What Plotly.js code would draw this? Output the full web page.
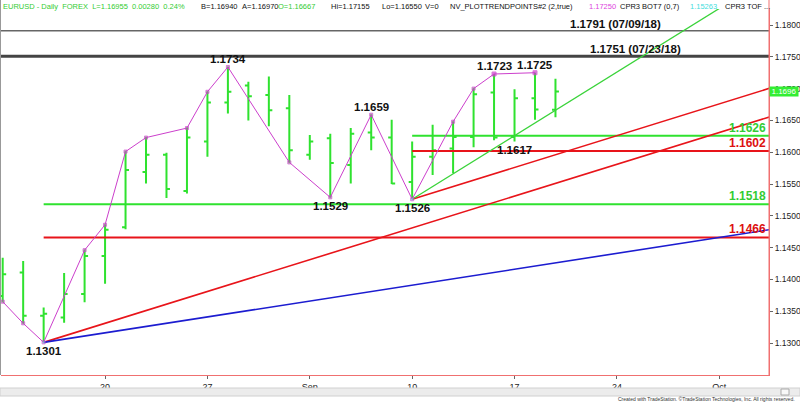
<!DOCTYPE html>
<html><head><meta charset="utf-8">
<script src="https://cdn.plot.ly/plotly-3.0.1.min.js"></script>
<style>html,body{margin:0;padding:0;background:#fff;}#chart{width:800px;height:402px;}</style>
</head><body><div id="chart"></div>
<script>
// ---- data ----
const dates = ['2018-08-13','2018-08-14','2018-08-15','2018-08-16','2018-08-17',
  '2018-08-20','2018-08-21','2018-08-22','2018-08-23','2018-08-24',
  '2018-08-27','2018-08-28','2018-08-29','2018-08-30','2018-08-31',
  '2018-09-03','2018-09-04','2018-09-05','2018-09-06','2018-09-07',
  '2018-09-10','2018-09-11','2018-09-12','2018-09-13','2018-09-14',
  '2018-09-17','2018-09-18','2018-09-19'];
const openP  = [1.1374,1.1411,1.1343,1.1340,1.1377,1.1437,1.1482,1.1569,1.1596,1.1539,
  1.1617,1.1678,1.1705,1.1690,1.1669,1.1596,1.1622,1.1580,1.1631,1.1623,
  1.1553,1.1593,1.1606,1.1624,1.1694,1.1624,1.1685,1.16667];
const highP  = [1.1434,1.1429,1.1356,1.1410,1.1446,1.1486,1.1601,1.1623,1.1599,1.1638,
  1.1695,1.1734,1.1711,1.1719,1.1690,1.1627,1.1629,1.1638,1.1659,1.1651,
  1.1617,1.1643,1.1648,1.1700,1.1723,1.1699,1.1725,1.17155];
const lowP   = [1.1365,1.1331,1.1301,1.1332,1.1364,1.1393,1.1479,1.1551,1.1528,1.1535,
  1.1593,1.1661,1.1650,1.1641,1.1584,1.1588,1.1529,1.1551,1.1603,1.1550,
  1.1526,1.1564,1.1567,1.1608,1.1619,1.1617,1.1651,1.16550];
const closeP = [1.1408,1.1343,1.1346,1.1377,1.1437,1.1478,1.1572,1.1596,1.1542,1.1623,
  1.1678,1.1695,1.1688,1.1666,1.1603,1.1617,1.1583,1.1629,1.1623,1.1551,
  1.1593,1.1603,1.1624,1.1691,1.1623,1.1685,1.1667,1.16955];

// swing (trend points) line
const swingDates  = ['2018-08-13','2018-08-14','2018-08-15','2018-08-17','2018-08-20','2018-08-21',
  '2018-08-22','2018-08-24','2018-08-27','2018-08-28','2018-08-31','2018-09-04','2018-09-06',
  '2018-09-10','2018-09-12','2018-09-13','2018-09-14','2018-09-18'];
const swingPrices = [1.1365,1.1331,1.1301,1.1446,1.1486,1.1601,1.1623,1.1638,1.1695,1.1734,
  1.1584,1.1529,1.1659,1.1526,1.1648,1.1700,1.1723,1.1725];

// labelled pivots
const pivotDates  = ['2018-08-15','2018-08-28','2018-09-04','2018-09-06','2018-09-10','2018-09-14','2018-09-17','2018-09-18'];
const pivotPrices = [1.1301,1.1734,1.1529,1.1659,1.1526,1.1723,1.1617,1.1725];

// old highs
const levelPrices = [1.1791, 1.1751];
const levelDates  = ['07/09/18','07/23/18'];

// horizontal support / resistance
const zonePrices = [1.1626, 1.1602, 1.1518, 1.1466];
const zoneStart  = ['2018-09-10','2018-09-10','2018-08-15','2018-08-15'];
const zoneKind   = ['green','red','green','red'];

// trend lines (start / end points)
const trendKind        = ['red','red','blue','green'];
const trendStartDates  = ['2018-08-15','2018-09-10','2018-08-15','2018-09-10'];
const trendStartPrices = [1.1301,1.1526,1.1301,1.1526];
const trendEndDates    = ['2018-10-04','2018-10-04','2018-10-04','2018-10-04'];
const trendEndPrices   = [1.1661,1.1706,1.1481,1.1886];

// axis ticks
const xTickDates = ['2018-08-20','2018-08-27','2018-09-03','2018-09-10','2018-09-17','2018-09-24','2018-10-01'];
const xTickText  = ['20','27','Sep','10','17','24','Oct'];
const yTicks = [1.1300,1.1350,1.1400,1.1450,1.1500,1.1550,1.1600,1.1650,1.1700,1.1750,1.1800];

// header
const headerParts = [
  ['EURUSD - Daily  FOREX  L=1.16955  0.00280  0.24%','green',2],
  ['B=1.16940','black',200],['A=1.16970','black',241],['O=1.16667','green',277],
  ['Hi=1.17155','black',330],['Lo=1.16550','black',381],['V=0','black',424],
  ['NV_PLOTTRENDPOINTS#2 (2,true)','black',449],['1.17250','magenta',588],
  ['CPR3 BOT7 (0,7)','black',619],['1.15263','cyan',689],['CPR3 TOF ...','black',724]
];

// ---- helpers ----
function tdIndex(s){
  const p=s.split('-').map(Number); const t=Date.UTC(p[0],p[1]-1,p[2]);
  const base=Date.UTC(2018,7,13), step=86400000; let n=0;
  if(t>=base){for(let u=base;u<t;u+=step){const w=new Date(u).getUTCDay(); if(w!==0&&w!==6)n++;}}
  else{for(let u=t;u<base;u+=step){const w=new Date(u).getUTCDay(); if(w!==0&&w!==6)n--;}}
  return n;
}
const C = {green:'#2fe22f', greenText:'#33cc33', red:'#e8141a', blue:'#1c1cd0', magenta:'#cc3fcc'};
const W=800,H=402,L=1,R=31,T=9,B=27, PW=W-L-R, PH=H-T-B;
const px2x = px => (px-L)/PW;
const px2y = py => 1-(py-T)/PH;
const FONT = 'Liberation Sans, Arial';

const xs = dates.map(tdIndex);
const traces = [];

// level lines
levelPrices.forEach((p,i)=>{
  traces.push({type:'scatter',mode:'lines',x:[tdIndex('2018-08-10'),tdIndex('2018-10-04')],y:[p,p],
    line:{color: i===0?'#666':'#444', width: i===0?1.5:3}, hoverinfo:'skip'});
});
// zones
zonePrices.forEach((p,i)=>{
  traces.push({type:'scatter',mode:'lines',x:[tdIndex(zoneStart[i]),tdIndex('2018-10-04')],y:[p,p],
    line:{color: zoneKind[i]==='green'?C.green:C.red, width:2}, hoverinfo:'skip'});
});
// trend lines
trendKind.forEach((k,i)=>{
  traces.push({type:'scatter',mode:'lines',x:[tdIndex(trendStartDates[i]),tdIndex(trendEndDates[i])],
    y:[trendStartPrices[i],trendEndPrices[i]],
    line:{color: k==='red'?C.red:(k==='blue'?C.blue:'#3ad33a'), width: k==='green'?1.3:1.6}, hoverinfo:'skip'});
});
// bars
traces.push({type:'ohlc',x:xs,open:openP,high:highP,low:lowP,close:closeP,tickwidth:0.17,
  increasing:{line:{color:C.green,width:2}},decreasing:{line:{color:C.green,width:2}},hoverinfo:'skip'});
// swing line
const nSw = swingDates.length;
traces.push({type:'scatter',mode:'lines+markers',x:swingDates.map(tdIndex),y:swingPrices,
  line:{color:C.magenta,width:1},
  marker:{size:swingDates.map((d,i)=>i>=nSw-2?4:3),symbol:'square',
    color:swingDates.map((d,i)=>i>=nSw-2?C.magenta:(d==='2018-08-15'||d==='2018-09-10'?'#66dddd':'#888'))},
  hoverinfo:'skip'});

const ann = [];
// pivot labels
pivotDates.forEach((d,i)=>{
  const k=dates.indexOf(d); const p=pivotPrices[i];
  const above = Math.abs(highP[k]-p) < 1e-6;
  ann.push({xref:'x',yref:'y',x:tdIndex(d),y:p,text:p.toFixed(4),showarrow:false,xanchor:'center',
    yanchor: above?'bottom':'top', yshift: above?0:-1,
    font:{family:FONT,size:11.5,color:'#111',weight:'bold'}});
});
// level labels
const levelPx = [615, 635];
levelPrices.forEach((p,i)=>{
  ann.push({xref:'paper',yref:'y',x:px2x(levelPx[i]),xanchor:'center',y:p,yanchor:'bottom',showarrow:false,
    text:p.toFixed(4)+' ('+levelDates[i]+')',yshift:-1,
    font:{family:FONT,size:11.5,color:'#111',weight:'bold'}});
});
// zone labels
zonePrices.forEach((p,i)=>{
  ann.push({xref:'paper',yref:'y',x:px2x(768),xanchor:'right',y:p,yanchor:'bottom',yshift:-1,showarrow:false,
    text:p.toFixed(4),font:{family:FONT,size:12,weight:'bold',
      color: zoneKind[i]==='green'?C.greenText:'#dd1111'}});
});
// last price box
ann.push({xref:'paper',yref:'y',x:1,xanchor:'left',y:closeP[closeP.length-1],showarrow:false,
  text:closeP[closeP.length-1].toFixed(4),bgcolor:'#33ee33',width:28,height:9,borderpad:0,
  font:{family:FONT,size:8,color:'#fff'}});
// header
const hcol = {green:'#33cc33',black:'#111',magenta:'#dd44dd',cyan:'#44dddd'};
headerParts.forEach(h=>{
  ann.push({xref:'paper',yref:'paper',x:px2x(h[2]),xanchor:'left',y:px2y(6.5),yanchor:'middle',showarrow:false,
    borderpad:0,text:h[0].replace(/ /g,'&nbsp;'),font:{family:FONT,size:7.5,color:hcol[h[1]]}});
});
// footer
ann.push({xref:'paper',yref:'paper',x:px2x(797),xanchor:'right',y:px2y(399),yanchor:'middle',showarrow:false,
  text:'Created with TradeStation. ©TradeStation Technologies, Inc. All rights reserved.',
  font:{family:FONT,size:5,color:'#333'}});

const shapes = [
  {type:'line',xref:'paper',yref:'paper',x0:px2x(0.5),x1:px2x(0.5),y0:px2y(0),y1:px2y(375),line:{color:'#999',width:1}},
  {type:'line',xref:'paper',yref:'paper',x0:1,x1:1,y0:px2y(0),y1:0,line:{color:'#f07070',width:1}},
  {type:'rect',xref:'paper',yref:'paper',x0:px2x(0),x1:px2x(800),y0:px2y(396),y1:px2y(388),
    fillcolor:'#ececec',line:{color:'#d0d0d0',width:1}},
  {type:'rect',xref:'paper',yref:'paper',x0:px2x(781),x1:px2x(789),y0:px2y(395),y1:px2y(389),
    fillcolor:'#f8f8f8',line:{color:'#aaa',width:1}}
];

const layout = {
  width:W,height:H,margin:{l:L,r:R,t:T,b:B,pad:0},paper_bgcolor:'#fff',plot_bgcolor:'#fff',
  showlegend:false,
  xaxis:{range:[-0.083,37.43],tickmode:'array',tickvals:xTickDates.map(tdIndex),ticktext:xTickText,
    showgrid:false,zeroline:false,showline:true,linecolor:'#f07070',linewidth:1,
    ticks:'outside',ticklen:3,tickcolor:'#666',tickfont:{family:FONT,size:9,color:'#222'},
    rangeslider:{visible:false},fixedrange:true},
  yaxis:{side:'right',range:[1.12497,1.18252],tickmode:'array',tickvals:yTicks,
    ticktext:yTicks.map(v=>v.toFixed(4)),showgrid:false,zeroline:false,showline:true,linecolor:'#f07070',
    ticks:'outside',ticklen:3,tickcolor:'#666',tickfont:{family:FONT,size:8.5,color:'#222'},
    fixedrange:true},
  annotations:ann,shapes:shapes
};
Plotly.newPlot('chart',traces,layout,{staticPlot:true,displayModeBar:false});
</script></body></html>
